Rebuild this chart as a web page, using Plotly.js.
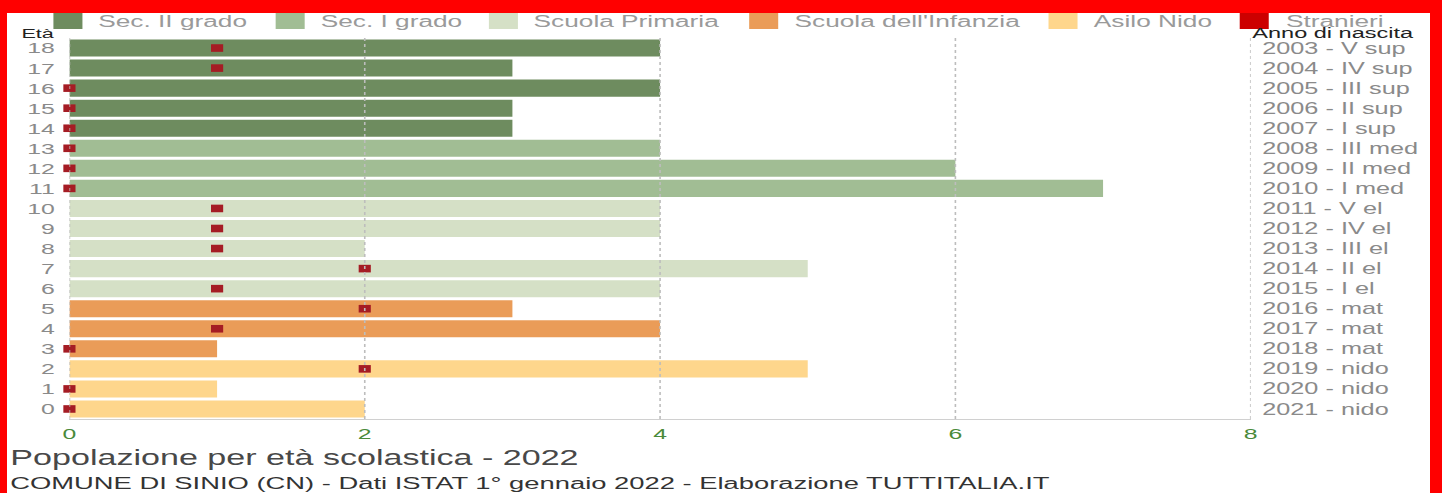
<!DOCTYPE html>
<html>
<head>
<meta charset="utf-8">
<script src="https://cdn.plot.ly/plotly-3.0.1.min.js"></script>
<style>
  html, body { margin: 0; padding: 0; background: #ff0000; width: 1442px; height: 493px; overflow: hidden; }
  #frame { position: absolute; left: 7px; top: 13px; width: 1423px; height: 480px; background: #ffffff; overflow: hidden; }
  #chart { position: absolute; left: 0; top: 0; transform-origin: 0 0; }
</style>
</head>
<body>
<div id="frame"><div id="chart"></div></div>
<script>
// ---- data ----
const ages = [0, 1, 2, 3, 4, 5, 6, 7, 8, 9, 10, 11, 12, 13, 14, 15, 16, 17, 18];
const totals = [2, 1, 5, 1, 4, 3, 4, 5, 2, 4, 4, 7, 6, 4, 3, 3, 4, 3, 4];
const stranieri = [0, 0, 2, 0, 1, 2, 1, 2, 1, 1, 1, 0, 0, 0, 0, 0, 0, 1, 1];
const birthLabels = ["2021 - nido", "2020 - nido", "2019 - nido", "2018 - mat", "2017 - mat", "2016 - mat",
  "2015 - I el", "2014 - II el", "2013 - III el", "2012 - IV el", "2011 - V el",
  "2010 - I med", "2009 - II med", "2008 - III med",
  "2007 - I sup", "2006 - II sup", "2005 - III sup", "2004 - IV sup", "2003 - V sup"];
const groupNames = ["Sec. II grado", "Sec. I grado", "Scuola Primaria", "Scuola dell'Infanzia", "Asilo Nido"];
const groupMinAge = [14, 11, 6, 3, 0];
const groupMaxAge = [18, 13, 10, 5, 2];
const xTickVals = [0, 2, 4, 6, 8];
const titleText = "Popolazione per età scolastica - 2022";
const subtitleText = "COMUNE DI SINIO (CN) - Dati ISTAT 1° gennaio 2022 - Elaborazione TUTTITALIA.IT";

// ---- styles ----
const groupColors = ["#6e8c5f", "#a1bd94", "#d5e0c6", "#ea9c58", "#fed68c"];
const stranieriLegendColor = "#cc0000";
const stranieriColor = "#a51c24";
const FONT = "Liberation Sans, Arial, Helvetica, sans-serif";

const S = 1423 / 889;          // horizontal stretch of the reference
const W = 889, H = 480;
const L = (70 - 7) / S;
const R = W - (1250 - 7) / S;
const T = 25, B = 74;
const PW = W - L - R, PH = H - T - B;
const px = (pageX) => (((pageX - 7) / S) - L) / PW;
const py = (pageY) => ((H - B) - (pageY - 13)) / PH;

const traces = [];
groupNames.forEach((name, gi) => {
  const ys = [], xs = [];
  ages.forEach((a, i) => {
    if (a >= groupMinAge[gi] && a <= groupMaxAge[gi]) { ys.push(a); xs.push(totals[i]); }
  });
  traces.push({
    type: "bar", orientation: "h", x: xs, y: ys, name: name,
    marker: { color: groupColors[gi], line: { width: 0 } },
    width: 0.85, showlegend: false, hoverinfo: "x+y"
  });
});
// square marker, stretched horizontally by the page transform -> ~12 x 7.6 px
traces.push({
  type: "scatter", mode: "markers", x: stranieri, y: ages, name: "Stranieri",
  marker: { symbol: "square", size: 7.6, color: stranieriColor, line: { width: 0 } },
  showlegend: false, cliponaxis: false
});
// hidden trace that anchors the right-hand axis
traces.push({
  type: "scatter", mode: "markers", x: totals, y: ages, yaxis: "y2",
  marker: { opacity: 0 }, showlegend: false, hoverinfo: "skip"
});

// legend drawn as swatches + labels
const legendNames = groupNames.concat(["Stranieri"]);
const legendColors = groupColors.concat([stranieriLegendColor]);
const legendSwatchX = [54, 276, 489, 749, 1048, 1239];
const legendTextX = [97, 319, 532, 793, 1092, 1283];

const shapes = [];
const annotations = [];
legendNames.forEach((n, i) => {
  shapes.push({ type: "rect", xref: "paper", yref: "paper",
    x0: px(legendSwatchX[i]), x1: px(legendSwatchX[i] + 29), y0: py(29), y1: py(10),
    fillcolor: legendColors[i], line: { width: 0 } });
  annotations.push({ xref: "paper", yref: "paper", x: px(legendTextX[i]), y: py(21),
    xanchor: "left", yanchor: "middle", showarrow: false, text: n,
    font: { family: FONT, size: 16.4, color: "#9a9a9a" }, borderpad: 0 });
});
// dotted grid, drawn over the bars (as in the reference)
xTickVals.forEach(v => {
  shapes.push({ type: "line", xref: "x", yref: "paper", x0: v, x1: v, y0: 0, y1: 1,
    layer: "above", line: { color: "#bdbdbd", width: 1, dash: "dot" } });
});
annotations.push({ xref: "paper", yref: "paper", x: px(21), y: py(33), xanchor: "left", yanchor: "middle",
  showarrow: false, text: "Età", font: { family: FONT, size: 13.5, color: "#222" }, borderpad: 0 });
annotations.push({ xref: "paper", yref: "paper", x: px(1250), y: py(33), xanchor: "left", yanchor: "middle",
  showarrow: false, text: "Anno di nascita", font: { family: FONT, size: 14.7, color: "#222" }, borderpad: 0 });
annotations.push({ xref: "paper", yref: "paper", x: px(9), y: py(458), xanchor: "left", yanchor: "middle",
  showarrow: false, text: titleText, font: { family: FONT, size: 21.3, color: "#484848" }, borderpad: 0 });
annotations.push({ xref: "paper", yref: "paper", x: px(9), y: py(483), xanchor: "left", yanchor: "middle",
  showarrow: false, text: subtitleText, font: { family: FONT, size: 17.1, color: "#333" }, borderpad: 0 });

const layout = {
  width: W, height: H,
  margin: { l: L, r: R, t: T, b: B, pad: 0 },
  paper_bgcolor: "#ffffff", plot_bgcolor: "#ffffff",
  barmode: "overlay",
  showlegend: false,
  font: { family: FONT },
  xaxis: {
    range: [0, 8], tickvals: xTickVals, showgrid: false, zeroline: false,
    showline: true, linecolor: "#d0d0d0", linewidth: 1,
    ticks: "",
    tickfont: { family: FONT, size: 15.5, color: "#4a8a3a" }, fixedrange: true
  },
  yaxis: {
    range: [-0.5, 18.5], tickvals: ages, ticktext: ages.map(String),
    showgrid: false, zeroline: false, showline: false,
    ticks: "outside", ticklen: 5, tickcolor: "rgba(0,0,0,0)",
    tickfont: { family: FONT, size: 15.5, color: "#8a8a8a" }, fixedrange: true
  },
  yaxis2: {
    overlaying: "y", side: "right", range: [-0.5, 18.5], tickvals: ages, ticktext: birthLabels,
    showgrid: false, zeroline: false, showline: false,
    ticks: "outside", ticklen: 3, tickcolor: "rgba(0,0,0,0)",
    tickfont: { family: FONT, size: 15.8, color: "#8a8a8a" }, fixedrange: true
  },
  shapes: shapes,
  annotations: annotations
};

document.getElementById("chart").style.transform = "scaleX(" + S + ")";
Plotly.newPlot("chart", traces, layout, { displayModeBar: false, staticPlot: true });
</script>
</body>
</html>
